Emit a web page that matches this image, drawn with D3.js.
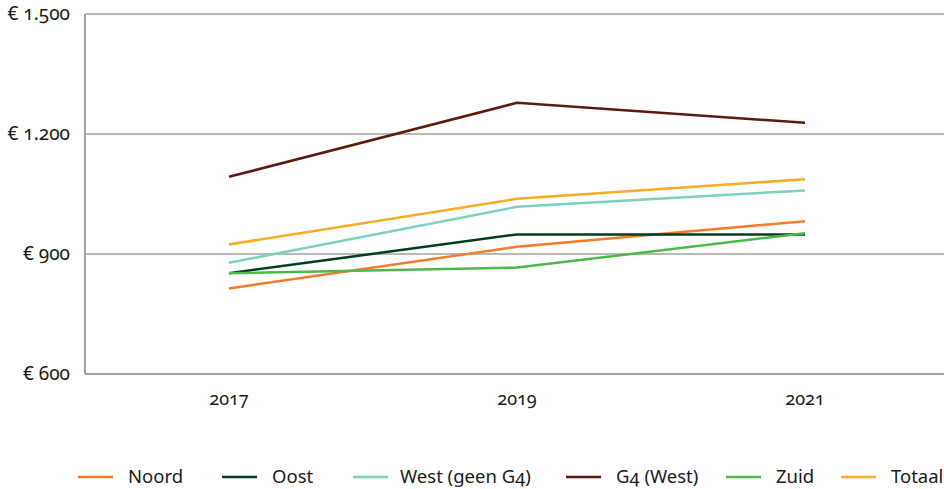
<!DOCTYPE html>
<html>
<head>
<meta charset="utf-8">
<script src="https://cdn.jsdelivr.net/npm/d3@7"></script>
<style>
  body { margin: 0; background: #fff; }
  svg text { font-family: "Noto Sans", "Open Sans", sans-serif; fill: #1a1a1a; font-feature-settings: "onum"; }
</style>
</head>
<body>
<div id="chart"></div>
<script>
const width = 944;
const height = 489;

const years = ["2017", "2019", "2021"];
const yTicks = [600, 900, 1200, 1500];

const noord = [814, 918, 982];
const oost = [852, 949, 949];
const west = [878, 1018, 1059];
const g4 = [1093, 1278, 1228];
const zuid = [852, 866, 952];
const totaal = [924, 1038, 1087];

const seriesNames = ["Noord", "Oost", "West (geen G4)", "G4 (West)", "Zuid", "Totaal"];
const seriesValues = [noord, oost, west, g4, zuid, totaal];
const seriesColors = ["#f47b2a", "#003d1c", "#7dcfc0", "#5a1a0e", "#4cb84a", "#f9ab21"];

const margin = { top: 14, left: 85, bottom: 115 };

const svg = d3.select("#chart").append("svg")
    .attr("width", width)
    .attr("height", height);

const x = d3.scalePoint()
    .domain(years)
    .range([margin.left, margin.left + 3 * 288])
    .padding(0.5);

const y = d3.scaleLinear()
    .domain([600, 1500])
    .range([height - margin.bottom, margin.top]);

// gridlines
svg.append("g")
    .selectAll("line")
    .data(yTicks)
    .join("line")
    .attr("x1", margin.left)
    .attr("x2", width)
    .attr("y1", d => y(d))
    .attr("y2", d => y(d))
    .attr("stroke", "#a0a0a0")
    .attr("stroke-width", d => d === 600 ? 2 : 1.3);

// y axis line
svg.append("line")
    .attr("x1", margin.left)
    .attr("x2", margin.left)
    .attr("y1", y(1500))
    .attr("y2", y(600))
    .attr("stroke", "#a0a0a0")
    .attr("stroke-width", 2);

// y labels
svg.append("g")
    .selectAll("text")
    .data(yTicks)
    .join("text")
    .attr("x", 70)
    .attr("y", d => y(d) + 6)
    .attr("text-anchor", "end")
    .style("font-size", "19px")
    .text(d => "€ " + d3.format(",")(d).replace(",", "."));

// x labels
svg.append("g")
    .selectAll("text")
    .data(years)
    .join("text")
    .attr("x", d => x(d))
    .attr("y", 405)
    .attr("text-anchor", "middle")
    .style("font-size", "18px")
    .text(d => d);

const line = d3.line()
    .x((d, i) => x(years[i]))
    .y(d => y(d));

svg.append("g")
    .selectAll("path")
    .data(seriesValues)
    .join("path")
    .attr("d", line)
    .attr("fill", "none")
    .attr("stroke", (d, i) => seriesColors[i])
    .attr("stroke-width", 2.5);

// legend
const legendX = [78, 222, 353, 566, 726, 841];
const legend = svg.append("g")
    .selectAll("g")
    .data(seriesNames)
    .join("g")
    .attr("transform", (d, i) => `translate(${legendX[i]},477)`);

legend.append("line")
    .attr("x1", 0)
    .attr("x2", 35)
    .attr("stroke", (d, i) => seriesColors[i])
    .attr("stroke-width", 2.5);

legend.append("text")
    .attr("x", (d, i) => i === 2 ? 47 : 50)
    .attr("y", 6)
    .style("font-size", "18.5px")
    .text(d => d);
</script>
</body>
</html>
